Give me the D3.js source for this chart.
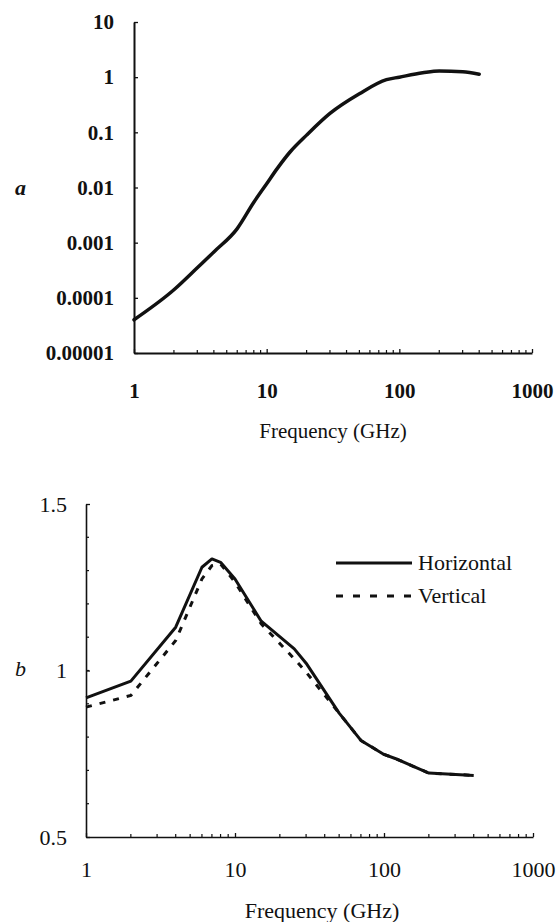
<!DOCTYPE html>
<html><head><meta charset="utf-8">
<script src="https://cdn.jsdelivr.net/npm/d3@7/dist/d3.min.js"></script>
<style>
html,body{margin:0;padding:0;background:#fff;}
svg{display:block;}
svg text{font-family:'Liberation Serif','Times New Roman',Tinos,'DejaVu Serif','Noto Serif',FreeSerif,serif !important;}
</style></head>
<body>
<svg id="c" width="557" height="922"></svg>
<script>
// ---- Data ----
const topFreq = [1, 2, 3, 4, 6, 8, 10, 12, 15, 20, 30, 50, 80, 100, 150, 200, 300, 400];
const topA = [4e-5, 1.4e-4, 3.5e-4, 6.8e-4, 1.8e-3, 5.4e-3, 0.0117, 0.022, 0.044, 0.089, 0.22, 0.5, 0.9, 1.0, 1.2, 1.3, 1.25, 1.13];
const topXTicks = [1, 10, 100, 1000];
const topYTicks = [1e-5, 1e-4, 1e-3, 1e-2, 0.1, 1, 10];
const topYLabels = ["0.00001", "0.0001", "0.001", "0.01", "0.1", "1", "10"];

const botFreq = [1, 2, 4, 6, 7, 8, 10, 15, 25, 30, 50, 70, 100, 120, 200, 400];
const horizontal = [0.918, 0.968, 1.13, 1.31, 1.335, 1.325, 1.275, 1.148, 1.065, 1.022, 0.872, 0.79, 0.748, 0.735, 0.692, 0.685];
const vertical = [0.89, 0.925, 1.09, 1.275, 1.315, 1.32, 1.265, 1.14, 1.035, 0.995, 0.872, 0.79, 0.748, 0.735, 0.692, 0.685];
const botXTicks = [1, 10, 100, 1000];
const botYTicks = [0.5, 1, 1.5];
const botYLabels = ["0.5", "1", "1.5"];
const seriesNames = ["Horizontal", "Vertical"];
const xTitle = "Frequency (GHz)";

const svg = d3.select("#c");

function minorLogTicks() {
  const out = [];
  for (let d = 1; d < 1000; d *= 10) for (let k = 2; k <= 9; k++) out.push(d * k);
  return out;
}
function styleAxis(a, size, weight, sw) {
  a.attr("font-family", null);
  a.select(".domain").attr("stroke", "#111").attr("stroke-width", sw);
  a.selectAll(".tick line").attr("stroke", "#111").attr("stroke-width", 1.3);
  a.selectAll("text").attr("font-size", size).attr("font-weight", weight).attr("fill", "#111");
}

// ---- Top chart (a) ----
{
  const x = d3.scaleLog().domain([1, 1000]).range([134, 532]);
  const y = d3.scaleLog().domain([1e-5, 10]).range([353, 22]);
  const g = svg.append("g");
  const ax = g.append("g").attr("transform", "translate(0,353)")
    .call(d3.axisBottom(x).tickValues(topXTicks).tickFormat(d3.format("d")).tickSizeInner(-4).tickSizeOuter(0).tickPadding(30));
  const ay = g.append("g").attr("transform", "translate(134,0)")
    .call(d3.axisLeft(y).tickValues(topYTicks).tickFormat((d, i) => topYLabels[i]).tickSizeInner(-4).tickSizeOuter(0).tickPadding(20));
  styleAxis(ax, 21, "bold", 2);
  styleAxis(ay, 21, "bold", 2);
  g.append("g").selectAll("line").data(minorLogTicks()).join("line")
    .attr("x1", d => x(d)).attr("x2", d => x(d)).attr("y1", 353).attr("y2", 350)
    .attr("stroke", "#111").attr("stroke-width", 1.2);
  g.append("path").datum(topFreq.map((f, i) => [f, topA[i]]))
    .attr("fill", "none").attr("stroke", "#111").attr("stroke-width", 3.5)
    .attr("stroke-linejoin", "round").attr("stroke-linecap", "round")
    .attr("d", d3.line().x(d => x(d[0])).y(d => y(d[1])).curve(d3.curveMonotoneX));
  g.append("text").attr("x", 333).attr("y", 438).attr("text-anchor", "middle")
    .attr("font-size", 21).attr("fill", "#111").text(xTitle);
  g.append("text").attr("x", 15).attr("y", 195).attr("font-size", 22)
    .attr("font-style", "italic").attr("font-weight", "bold").attr("fill", "#111").text("a");
}

// ---- Bottom chart (b) ----
{
  const x = d3.scaleLog().domain([1, 1000]).range([86, 533]);
  const y = d3.scaleLinear().domain([0.5, 1.5]).range([837, 504]);
  const g = svg.append("g");
  const ax = g.append("g").attr("transform", "translate(0,837)")
    .call(d3.axisBottom(x).tickValues(botXTicks).tickFormat(d3.format("d")).tickSizeInner(-4).tickSizeOuter(0).tickPadding(24));
  const ay = g.append("g").attr("transform", "translate(86,0)")
    .call(d3.axisLeft(y).tickValues(botYTicks).tickFormat((d, i) => botYLabels[i]).tickSizeInner(-4).tickSizeOuter(0).tickPadding(19));
  styleAxis(ax, 22, "normal", 1.6);
  styleAxis(ay, 22, "normal", 1.6);
  g.append("g").selectAll("line").data(d3.range(0.6, 1.5, 0.1)).join("line")
    .attr("x1", 86).attr("x2", 89).attr("y1", d => y(d)).attr("y2", d => y(d))
    .attr("stroke", "#111").attr("stroke-width", 1.2);
  g.append("g").selectAll("line").data(minorLogTicks()).join("line")
    .attr("x1", d => x(d)).attr("x2", d => x(d)).attr("y1", 837).attr("y2", 834)
    .attr("stroke", "#111").attr("stroke-width", 1.2);
  const line = d3.line().x(d => x(d[0])).y(d => y(d[1]));
  g.append("path").datum(botFreq.map((f, i) => [f, vertical[i]]))
    .attr("fill", "none").attr("stroke", "#111").attr("stroke-width", 3)
    .attr("stroke-dasharray", "6,8").attr("d", line);
  g.append("path").datum(botFreq.map((f, i) => [f, horizontal[i]]))
    .attr("fill", "none").attr("stroke", "#111").attr("stroke-width", 3)
    .attr("stroke-linejoin", "round").attr("d", line);
  // legend
  const lg = g.append("g");
  lg.append("line").attr("x1", 336).attr("x2", 412).attr("y1", 563).attr("y2", 563)
    .attr("stroke", "#111").attr("stroke-width", 3);
  lg.append("line").attr("x1", 336).attr("x2", 412).attr("y1", 596).attr("y2", 596)
    .attr("stroke", "#111").attr("stroke-width", 3).attr("stroke-dasharray", "7,10");
  lg.append("text").attr("x", 418).attr("y", 570).attr("font-size", 22).attr("fill", "#111").text(seriesNames[0]);
  lg.append("text").attr("x", 418).attr("y", 603).attr("font-size", 22).attr("fill", "#111").text(seriesNames[1]);
  g.append("text").attr("x", 322).attr("y", 918).attr("text-anchor", "middle")
    .attr("font-size", 22).attr("fill", "#111").text(xTitle);
  g.append("text").attr("x", 15).attr("y", 676).attr("font-size", 22)
    .attr("font-style", "italic").attr("fill", "#111").text("b");
}
</script>
</body></html>
